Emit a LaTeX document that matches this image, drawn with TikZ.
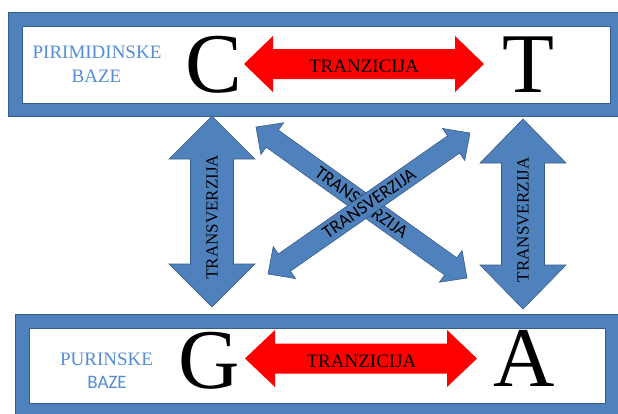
\documentclass[tikz,border=0pt]{standalone}
\usepackage{fontspec}
\setmainfont{Liberation Serif}
\newfontfamily\calibri{Carlito}
\usetikzlibrary{calc}
\definecolor{boxblue}{RGB}{79,129,189}
\definecolor{edgeblue}{RGB}{56,93,138}
\definecolor{labelblue}{RGB}{84,141,212}
\definecolor{arrred}{RGB}{255,0,0}
% #1 from, #2 to, #3 shaft half width, #4 head half width, #5 head length, #6 style
\newcommand\blockarrow[6]{%
  \coordinate (ba1) at ($(#1)!#5!(#2)$);
  \coordinate (ba2) at ($(#2)!#5!(#1)$);
  \path[#6] (#1) -- ($(ba1)!#4!90:(#2)$) -- ($(ba1)!#3!90:(#2)$)
    -- ($(ba2)!#3!-90:(#1)$) -- ($(ba2)!#4!-90:(#1)$) -- (#2)
    -- ($(ba2)!#4!90:(#1)$) -- ($(ba2)!#3!90:(#1)$)
    -- ($(ba1)!#3!-90:(#2)$) -- ($(ba1)!#4!-90:(#2)$) -- cycle;
}
\tikzset{
  outerbox/.style={draw=edgeblue, line width=0.8pt, fill=boxblue, inner sep=0pt, outer sep=0pt},
  innerbox/.style={draw=edgeblue, line width=0.8pt, fill=white, inner sep=0pt, outer sep=0pt},
  bluearrow/.style={fill=boxblue, draw=edgeblue, line width=0.6pt},
  redarrow/.style={fill=arrred},
  base letter/.style={inner sep=0pt, anchor=base, font=\fontsize{85}{85}\selectfont},
  sidelabel/.style={inner sep=0pt, anchor=base, text=labelblue, font=\fontsize{19}{19}\selectfont},
  trlabel/.style={inner sep=0pt, anchor=base, font=\fontsize{19}{19}\selectfont},
  vlabel/.style={inner sep=0pt, rotate=90, font=\fontsize{17}{17}\selectfont},
  dlabel/.style={inner sep=0pt, font=\calibri\fontsize{18.5}{18.5}\selectfont},
}
\begin{document}
\begin{tikzpicture}[x=1pt, y=-1pt]
\clip (0,0) rectangle (618,413);
\fill[white] (0,0) rectangle (618,413);

% boxes
\node[outerbox, minimum width=617pt, minimum height=104pt] (topbox) at (316.5,64) {};
\node[innerbox, minimum width=588pt, minimum height=77pt] (topinner) at (316,64.5) {};
\node[outerbox, minimum width=610pt, minimum height=102pt] (botbox) at (320,365) {};
\node[innerbox, minimum width=576pt, minimum height=75pt] (botinner) at (317,365.5) {};

% side labels
\node[sidelabel] (pir1) at (97,58) {PIRIMIDINSKE};
\node[sidelabel] (pir2) at (96.5,82) {BAZE};
\node[sidelabel] (pur1) at (106.5,365) {PURINSKE};
\node[sidelabel, font=\calibri\fontsize{19}{19}\selectfont] (pur2) at (107,388) {BAZE};

% letters
\node[base letter] (C) at (213.5,92) {C};
\node[base letter] (T) at (528,92) {T};
\node[base letter] (G) at (209,388) {G};
\node[base letter] (A) at (524.5,386) {A};

% red transition arrows
\coordinate (rl) at (244,64);
\coordinate (rr) at (484,64);
\blockarrow{rl}{rr}{15pt}{28pt}{29pt}{redarrow}
\node[trlabel] (tr1) at (364,72) {TRANZICIJA};
\coordinate (gl) at (245,358.5);
\coordinate (gr) at (477,358.5);
\blockarrow{gl}{gr}{15pt}{28.5pt}{30pt}{redarrow}
\node[trlabel] (tr2) at (361.5,367) {TRANZICIJA};

% vertical transversion arrows
\coordinate (vl1) at (212,116);
\coordinate (vl2) at (212,307);
\blockarrow{vl1}{vl2}{21.5pt}{43pt}{43pt}{bluearrow}
\node[vlabel] (tv1) at ($(vl1)!0.53!(vl2)$) {TRANSVERZIJA};
\coordinate (vr1) at (523,119);
\coordinate (vr2) at (523,309);
\blockarrow{vr1}{vr2}{21.5pt}{43pt}{44pt}{bluearrow}
\node[vlabel] (tv2) at ($(vr1)!0.53!(vr2)$) {TRANSVERZIJA};

% diagonal transversion arrows
\coordinate (d1a) at (256,127);
\coordinate (d1b) at (467,278);
\blockarrow{d1a}{d1b}{10.5pt}{19.5pt}{20pt}{bluearrow}
\node[dlabel, rotate=-35.6] (td1) at ($(d1a)!0.5!(d1b)$) {TRANSVERZIJA};
\coordinate (d2a) at (268,274);
\coordinate (d2b) at (470,133);
\blockarrow{d2a}{d2b}{10.5pt}{19.5pt}{20pt}{bluearrow}
\node[dlabel, rotate=34.9] (td2) at ($(d2a)!0.5!(d2b)$) {TRANSVERZIJA};
\end{tikzpicture}
\end{document}
